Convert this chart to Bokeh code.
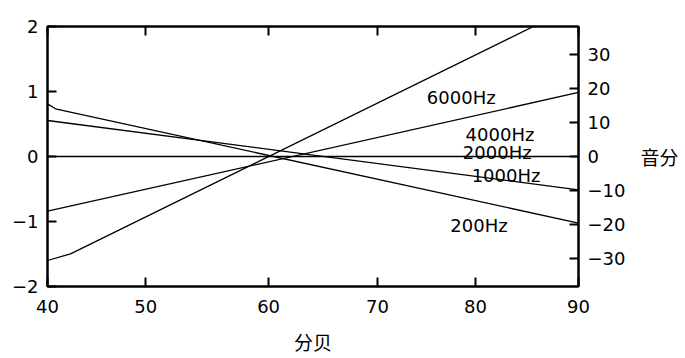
from bokeh.plotting import figure
from bokeh.models import Range1d, LinearAxis, FixedTicker, CustomJSTickFormatter
from bokeh.core.properties import value
from bokeh.embed import file_html
from bokeh.resources import INLINE

# ---- data (x: sound level in dB, y: pitch shift) ----
x_200 = [40, 40.75, 90]
y_200 = [0.81, 0.734, -1.026]
x_1000 = [40, 90]
y_1000 = [0.554, -0.512]
x_2000 = [40, 90]
y_2000 = [0.0, 0.0]
x_4000 = [40, 90]
y_4000 = [-0.842, 0.985]
x_6000 = [40, 42.17, 85.76]
y_6000 = [-1.6, -1.497, 2.0]

series_names = ["200Hz", "1000Hz", "2000Hz", "4000Hz", "6000Hz"]
label_x = [77.93, 79.94, 79.11, 79.37, 75.72]
label_y = [-1.062, -0.292, 0.069, 0.338, 0.912]

# tick labels (the printed dB axis is not evenly spaced)
x_tick_pos = [40, 49.25, 60.82, 71.08, 80.30, 90]
x_tick_labels = ["40", "50", "60", "70", "80", "90"]
y_tick_pos = [-2, -1, 0, 1, 2]
y_tick_labels = ["\u22122", "\u22121", "0", "1", "2"]
cent_tick_pos = [-30, -20, -10, 0, 10, 20, 30]
cent_tick_labels = ["\u221230", "\u221220", "\u221210", "0", "10", "20", "30"]

x_title = "分贝"
right_title = "音分"

FONT = "DejaVu Sans"
CJK = "Noto Sans CJK SC"

p = figure(width=685, height=358, x_range=Range1d(40, 90), y_range=Range1d(-2, 2),
           output_backend="svg", toolbar_location=None,
           x_axis_location=None, y_axis_location=None,
           min_border_left=47, min_border_right=107, min_border_top=26, min_border_bottom=72)
p.extra_y_ranges = {"cents": Range1d(-38.3, 38.4)}
p.xgrid.visible = False
p.ygrid.visible = False
p.outline_line_color = "black"
p.outline_line_width = 2
p.background_fill_color = "white"
p.border_fill_color = "white"


def style(ax, labels_visible=True):
    ax.axis_line_color = "black"
    ax.axis_line_width = 2
    ax.major_tick_in = 9
    ax.major_tick_out = 0
    ax.major_tick_line_width = 2
    ax.major_tick_line_color = "black"
    ax.minor_tick_line_color = None
    ax.major_label_text_font = FONT
    ax.major_label_text_color = "black"
    ax.axis_label_text_font = CJK
    ax.axis_label_text_font_size = "19px"
    ax.axis_label_text_font_style = "normal"
    ax.axis_label_text_color = "black"
    if labels_visible:
        ax.major_label_text_font_size = "18px"
    else:
        ax.major_label_text_font_size = "0px"
        ax.major_label_standoff = 0


bottom = LinearAxis(ticker=FixedTicker(ticks=x_tick_pos),
                    formatter=CustomJSTickFormatter(args=dict(labels=x_tick_labels),
                                                    code="return labels[index]"),
                    axis_label=x_title)
style(bottom)
bottom.major_label_standoff = 13
bottom.axis_label_standoff = 12
p.add_layout(bottom, "below")

top = LinearAxis(ticker=FixedTicker(ticks=x_tick_pos),
                 formatter=CustomJSTickFormatter(code="return ''"))
style(top, labels_visible=False)
p.add_layout(top, "above")

left = LinearAxis(ticker=FixedTicker(ticks=y_tick_pos),
                  formatter=CustomJSTickFormatter(args=dict(labels=y_tick_labels),
                                                  code="return labels[index]"))
style(left)
left.major_label_standoff = 9
p.add_layout(left, "left")

right = LinearAxis(y_range_name="cents", ticker=FixedTicker(ticks=cent_tick_pos),
                   formatter=CustomJSTickFormatter(args=dict(labels=cent_tick_labels),
                                                   code="return labels[index]"),
                   axis_label=right_title)
style(right)
right.major_label_standoff = 9
right.axis_label_standoff = 12
right.axis_label_orientation = "horizontal"
p.add_layout(right, "right")

for xs, ys in [(x_200, y_200), (x_1000, y_1000), (x_2000, y_2000),
               (x_4000, y_4000), (x_6000, y_6000)]:
    p.line(xs, ys, line_color="black", line_width=1.3)

p.text(x=label_x, y=label_y, text=series_names, text_font=value(FONT),
       text_font_size=value("18px"), text_color="black",
       text_align="left", text_baseline="alphabetic")

open("out.html", "w").write(file_html(p, INLINE))
